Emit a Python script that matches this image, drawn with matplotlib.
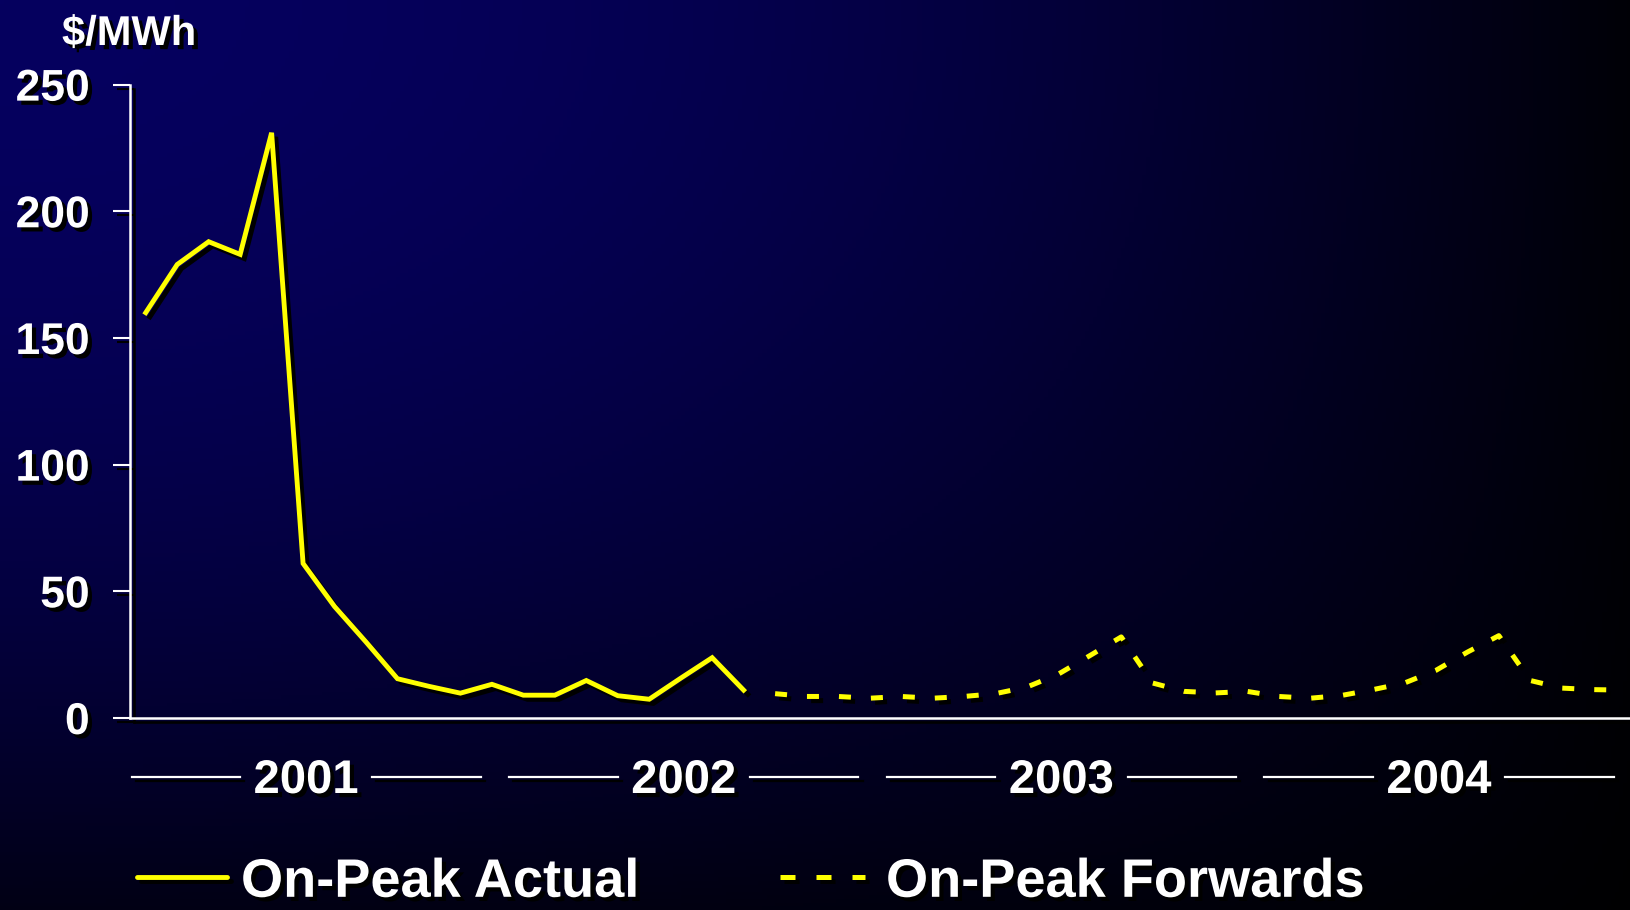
import matplotlib
matplotlib.use('Agg')
import matplotlib.pyplot as plt
import matplotlib.patheffects as pe
import matplotlib.transforms as mtransforms
from matplotlib.lines import Line2D
import numpy as np

plt.rcParams['font.family'] = ['Liberation Sans', 'DejaVu Sans']
plt.rcParams['font.weight'] = 'bold'

# monthly on-peak prices, $/MWh (Jan 2001 - Aug 2002 actual, then forwards to Dec 2004)
actual = [160, 179, 188, 183, 231, 61, 44, 30, 15.5, 12.5, 9.8, 13.3,
          9, 9, 14.8, 8.8, 7.4, 15.7, 23.8, 11]
forwards = [9.6, 8.5, 8.5, 7.8, 8.5, 7.8, 8.5, 9.6, 12.2, 17.3, 24.6, 32,
            13.8, 10.5, 9.9, 10.5, 8.5, 7.8, 8.9, 11.2, 13.8, 18.8, 26, 32.5,
            14.8, 11.8, 11.2, 11]
years = ['2001', '2002', '2003', '2004']
yticks = [0, 50, 100, 150, 200, 250]
unit_label = '\\$/MWh'
legend_labels = ['On-Peak Actual', 'On-Peak Forwards']

x_act = np.arange(len(actual))
x_fwd = np.arange(len(actual), len(actual) + len(forwards))

W, H = 1631, 910
fig = plt.figure(figsize=(W / 100, H / 100), dpi=100)

# background gradient, navy top-left fading to black at right / bottom
bg = fig.add_axes([0, 0, 1, 1], zorder=-10)
u = np.linspace(0, 1, 400)[None, :]
v = np.linspace(0, 1, 250)[:, None]
b = 95 * (1 - 0.93 * u ** 2) * (1 - 0.78 * v ** 2) / 255.0
img = np.dstack([b * 0.06, np.zeros_like(b), b])
bg.imshow(img, extent=[0, 1, 0, 1], aspect='auto', origin='upper')
bg.set_axis_off()

line_fx = [pe.SimpleLineShadow(offset=(3, -3), shadow_color='black', alpha=1.0), pe.Normal()]
text_fx = [pe.withSimplePatchShadow(offset=(3, -3), shadow_rgbFace='black', alpha=1.0)]

ax = fig.add_axes([130 / W, 0.211, 1 - 130 / W, 0.907 - 0.211])
ax.set_facecolor('none')

ax.plot(x_act, actual, color='#ffff00', lw=3.5, solid_joinstyle='miter',
        path_effects=line_fx)
ax.plot(x_fwd, forwards, color='#ffff00', lw=3.6, linestyle=(0, (2.4, 4.0)),
        dash_capstyle='butt', path_effects=line_fx)

ax.set_xlim(-0.5, 47.2)
ax.set_ylim(0, 250)
ax.set_yticks(yticks, labels=[str(t) for t in yticks])
ax.tick_params(axis='y', length=12, width=1.5, color='white', pad=17,
               labelsize=32, labelcolor='white', direction='out')
ax.tick_params(axis='x', length=0, labelbottom=False)
for lbl in ax.get_yticklabels():
    lbl.set_path_effects(text_fx)
for t in ax.yaxis.get_ticklines():
    t.set_path_effects(line_fx)
for s in ['top', 'right']:
    ax.spines[s].set_visible(False)
for s in ['left', 'bottom']:
    ax.spines[s].set_color('white')
    ax.spines[s].set_linewidth(1.8)
    ax.spines[s].set_path_effects(line_fx)

fig.text(62 / W, 1 - 45 / H, unit_label, fontsize=30, color='white',
         ha='left', va='baseline', path_effects=text_fx)

# year labels with rules either side
trans = mtransforms.blended_transform_factory(ax.transData, fig.transFigure)
for i, yr in enumerate(years):
    c = 12 * i + 5.1
    ax.text(c, 1 - 793 / H, yr, transform=trans, ha='center', va='baseline',
            fontsize=34, color='white', path_effects=text_fx, clip_on=False)
    for x0, x1 in [(c - 5.55, c - 2.1), (c + 2.1, c + 5.55)]:
        fig.add_artist(Line2D([x0, x1], [1 - 777 / H] * 2, transform=trans,
                              color='white', lw=1.6, path_effects=line_fx))

# legend (kept just inside the bottom edge)
ly = 1 - 877 / H
fig.add_artist(Line2D([137 / W, 227 / W], [ly, ly], transform=fig.transFigure,
                      color='#ffff00', lw=3.5, solid_capstyle='round',
                      path_effects=line_fx))
fig.add_artist(Line2D([780 / W, 865 / W], [ly, ly], transform=fig.transFigure,
                      color='#ffff00', lw=3.6, linestyle=(0, (3.0, 4.2)),
                      dash_capstyle='butt', path_effects=line_fx))
fig.text(241 / W, 0.0145, legend_labels[0], fontsize=39, color='white',
         ha='left', va='baseline', path_effects=text_fx)
fig.text(886 / W, 0.0145, legend_labels[1], fontsize=39, color='white',
         ha='left', va='baseline', path_effects=text_fx)

fig.savefig('out.png', dpi=100)
